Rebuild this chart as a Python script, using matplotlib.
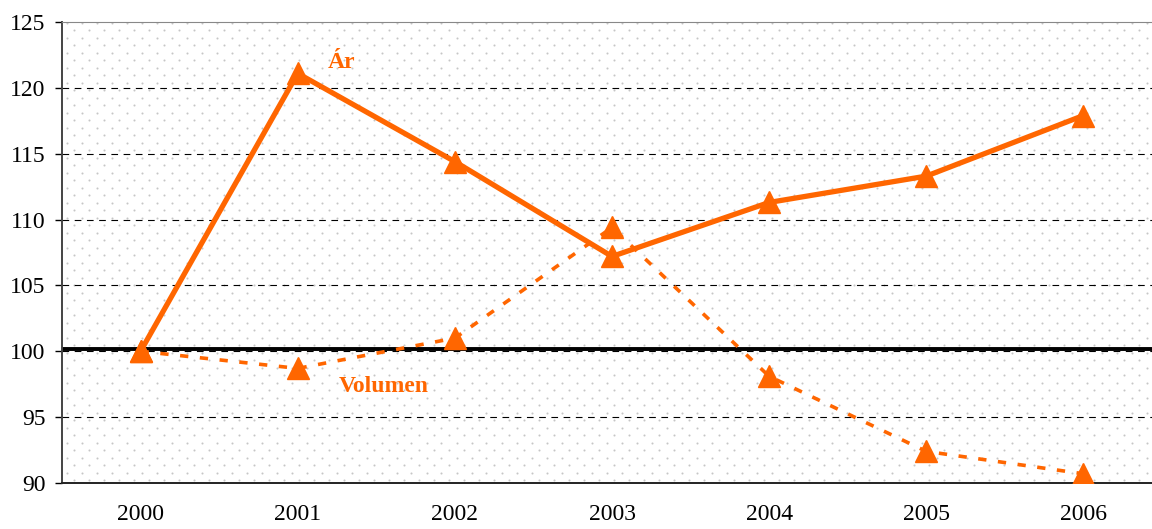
import numpy as np
import matplotlib
matplotlib.use("Agg")
import matplotlib.pyplot as plt

# ===============================
# Data
# ===============================
years = ["2000", "2001", "2002", "2003", "2004", "2005", "2006"]
ar = [100.0, 121.1, 114.4, 107.2, 111.3, 113.3, 117.9]
volumen = [100.0, 98.7, 101.0, 109.4, 98.1, 92.4, 90.7]
yticks = [90, 95, 100, 105, 110, 115, 120, 125]

ORANGE = "#FF6600"

plt.rcParams['font.family'] = ['Liberation Serif', 'DejaVu Serif']

fig = plt.figure(figsize=(11.52, 5.29), dpi=100)
ax = fig.add_axes([62 / 1152, 46 / 529, 1100 / 1152, 461 / 529])

# dotted background pattern (staggered grid of grey dots)
gx, gy = np.meshgrid(np.arange(0, 1.0, 15 / 1100), np.arange(0, 1.0, 15 / 461))
for ox, oy in [(12 / 1100, 3 / 461), (4.5 / 1100, 10.5 / 461)]:
    ax.scatter(gx.ravel() + ox, gy.ravel() + oy, s=2.2, color="#c6c6c6",
               transform=ax.transAxes, zorder=0, linewidths=0)

x = np.arange(len(years))

# grid
for v in yticks[1:-1]:
    ax.axhline(v, color="black", lw=0.8, linestyle=(0, (6, 5)), zorder=1)
ax.axhline(100.2, color="black", lw=2.8, zorder=2)

ax.plot(x, volumen, color=ORANGE, lw=2.6, linestyle=(0, (2.3, 3.2)),
        marker="^", markersize=16, zorder=3)
ax.plot(x, ar, color=ORANGE, lw=3.8, marker="^", markersize=16, zorder=4)

ax.text(1.28, 121.9, "Ár", color=ORANGE, fontsize=17, fontweight="bold",
        ha="center", va="center")
ax.text(1.55, 97.3, "Volumen", color=ORANGE, fontsize=17, fontweight="bold",
        ha="center", va="center")

ax.set_xlim(-0.5, 6.5)
ax.set_ylim(90, 125)
ax.set_yticks(yticks)
ax.set_xticks(x)
ax.set_xticklabels(years)
ax.tick_params(axis="x", length=0, pad=15, labelsize=17)
ax.tick_params(axis="y", length=5, width=1, direction="out", pad=7, labelsize=17)

ax.spines["left"].set_color("#444444")
ax.spines["left"].set_linewidth(1.4)
ax.spines["bottom"].set_color("#222222")
ax.spines["bottom"].set_linewidth(1.4)
ax.spines["top"].set_color("#888888")
ax.spines["right"].set_visible(False)

fig.savefig("out.png", dpi=100)
